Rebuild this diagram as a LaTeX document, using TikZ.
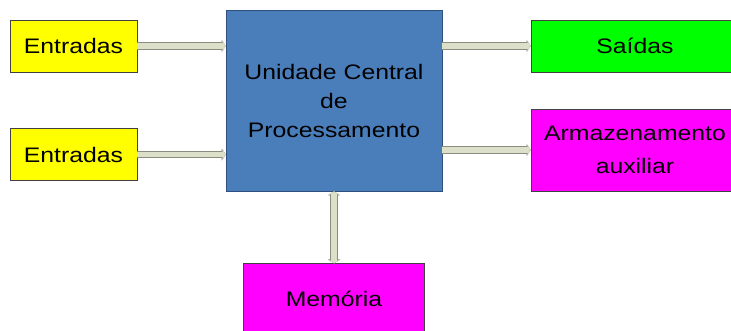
\documentclass[tikz,border=0pt]{standalone}
\usepackage{fontspec}
\setmainfont{Liberation Sans}[FakeStretch=1.18]
\usepackage{tikz}
\usetikzlibrary{positioning,arrows.meta}

\definecolor{cpublue}{HTML}{4A7EBB}
\definecolor{cpuline}{HTML}{2F4F7F}
\definecolor{infill}{HTML}{FFFF00}
\definecolor{outfill}{HTML}{00FF00}
\definecolor{memfill}{HTML}{FF00FF}
\definecolor{busfill}{HTML}{DDE0C8}
\definecolor{busline}{HTML}{8C8C7E}

\tikzset{
    unit/.style={draw=black!75, line width=0.8pt, inner sep=0pt, align=center,
        font=\fontsize{21}{29}\selectfont},
    entrada/.style={unit, fill=infill, minimum width=127pt, minimum height=52pt},
    saida/.style={unit, fill=outfill, minimum width=208pt, minimum height=52pt},
    armaz/.style={unit, fill=memfill, minimum width=208pt, minimum height=82pt,
        font=\fontsize{21}{33}\selectfont},
    bus/.style={line width=5.5pt, draw=busfill,
        preaction={draw=busline, line width=7.5pt}},
    busto/.style={bus, -{Triangle[length=3pt,width=10pt]},
        preaction={draw=busline, line width=7.5pt, -{Triangle[length=4pt,width=12pt]}}},
    busboth/.style={bus, {Triangle[length=3pt,width=10pt]}-{Triangle[length=3pt,width=10pt]},
        preaction={draw=busline, line width=7.5pt,
            {Triangle[length=4pt,width=12pt]}-{Triangle[length=4pt,width=12pt]}}}
}

\begin{document}
\begin{tikzpicture}[x=1pt, y=-1pt]
    \useasboundingbox (0,0) rectangle (731,331);

    % central unit
    \node[unit, fill=cpublue, draw=cpuline, minimum width=216pt, minimum height=181pt]
        (cpu) at (334,100.5) {Unidade Central\\de\\Processamento};

    % inputs
    \node[entrada] (e1) at (73.5,46) {Entradas};
    \node[entrada] (e2) at (73.5,154.5) {Entradas};

    % outputs
    \node[saida] (s) at (635,46) {Saídas};
    \node[armaz] (a) at (635,150) {Armazenamento\\auxiliar};

    % memory
    \node[unit, fill=memfill, minimum width=181pt, minimum height=70pt,
        below=72pt of cpu] (m) {Memória};

    % buses
    \draw[busto] (e1.east) -- (e1.east -| cpu.west);
    \draw[busto] (e2.east) -- (e2.east -| cpu.west);
    \draw[busto] (cpu.east |- s.west) -- (s.west);
    \draw[busto] (cpu.east |- a.west) -- (a.west);
    \draw[busboth] (cpu.south) -- (m.north);
\end{tikzpicture}
\end{document}
